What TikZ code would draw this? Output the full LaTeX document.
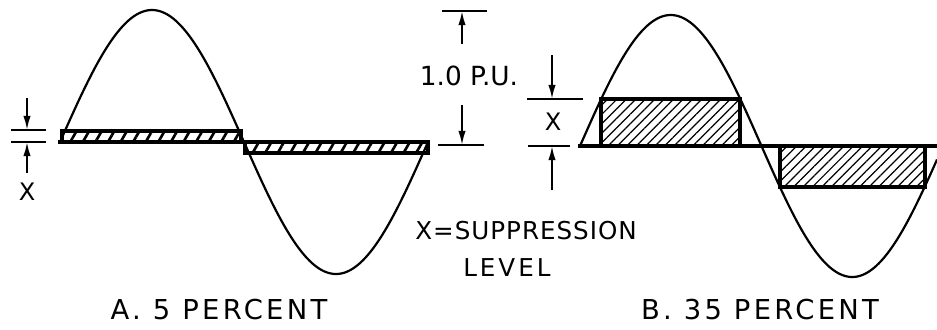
\documentclass[tikz,border=0pt]{standalone}
\usepackage{fontspec}
\setmainfont{DejaVu Sans}
\newfontfamily\wideletter{DejaVu Sans}[LetterSpace=12]
\newfontfamily\midletter{DejaVu Sans}[LetterSpace=4]
\usetikzlibrary{arrows.meta, positioning, patterns.meta, calc}

\begin{document}
\begin{tikzpicture}[
  x=0.02cm, y=-0.02cm,
  wave/.style={line width=1.25pt, line join=round},
  clipbox/.style={draw=black, line width=1.8pt},
  thinhatch/.style={pattern={Lines[angle=60, distance=6.2pt, line width=1.5pt]}},
  widehatch/.style={pattern={Lines[angle=45, distance=3.8pt, line width=0.7pt]}},
  dimtick/.style={line width=1.5pt},
  dim/.style={line width=1.1pt, -{Latex[length=8pt, width=4.2pt]}},
  xlbl/.style={inner sep=0pt, font=\fontsize{13.7}{16}\selectfont},
  lbl/.style={inner sep=0pt, font=\midletter\fontsize{14}{17}\selectfont},
  caption/.style={inner sep=0pt, font=\wideletter\fontsize{15.6}{19}\selectfont},
]
  \useasboundingbox (0,0) rectangle (937,329);

  % ── A: 5 percent ───────────────────────────
  \draw[wave] plot[domain=60:428, samples=160] (\x, {142-132*sin((\x-60)*0.97826)});
  \draw[clipbox, thinhatch] (62,131) rectangle (241,142);
  \draw[clipbox, thinhatch] (245,142) rectangle (428,153);
  \draw[clipbox] (58,142) -- (430,142);

  % ── B: 35 percent ──────────────────────────
  \draw[wave] plot[domain=580:937, samples=160] (\x, {146-131*sin((\x-580)*0.99174)});
  \draw[clipbox, widehatch] (601,99) rectangle (740,146);
  \draw[clipbox, widehatch] (780,146) rectangle (925,187);
  \draw[clipbox] (578,146) -- (937,146);

  % ── X on A ─────────────────────────────────
  \coordinate (axs) at (27,98);
  \coordinate (axt) at (27,130);
  \coordinate (axb) at (27,142);
  \node[xlbl] (xa) at (27,192) {X};
  \draw[dimtick] ($(axt)+(-16,0)$) -- ($(axt)+(19,0)$);
  \draw[dimtick] ($(axb)+(-16,0)$) -- ($(axb)+(19,0)$);
  \draw[dim] (axs) -- (axt);
  \draw[dim, shorten <=5.5pt] (xa) -- (axb);

  % ── 1.0 P.U. ───────────────────────────────
  \coordinate (put) at (462,11);
  \coordinate (pub) at (462,145);
  \node[xlbl, font=\fontsize{15}{18}\selectfont] (pu) at (469,76) {1.0 P.U.};
  \draw[dimtick] ($(put)+(-20,0)$) -- ($(put)+(25,0)$);
  \draw[dimtick] ($(pub)+(-24,0)$) -- ($(pub)+(22,0)$);
  \draw[dim, shorten <=12.5pt] (pu.north -| put) -- (put);
  \draw[dim, shorten <=10.5pt] (pu.south -| pub) -- (pub);

  % ── X on B ─────────────────────────────────
  \coordinate (bxs) at (552,55);
  \coordinate (bxt) at (552,99);
  \coordinate (bxb) at (552,146);
  \coordinate (bxe) at (552,190);
  \node[xlbl] (xb) at (553,122) {X};
  \draw[dimtick] ($(bxt)+(-25,0)$) -- ($(bxt)+(31,0)$);
  \draw[dimtick] ($(bxb)+(-24,0)$) -- ($(bxb)+(18,0)$);
  \draw[dim] (bxs) -- (bxt);
  \draw[dim] (bxe) -- (bxb);

  % ── Legend and captions ────────────────────
  \node[lbl, anchor=west] (supp) at (415,231) {X=SUPPRESSION};
  \node[lbl, font=\wideletter\fontsize{14}{17}\selectfont, below right=0.36cm and 0.96cm of supp.south west] (lev) {LEVEL};
  \node[caption] (capa) at (219,310) {A. 5 PERCENT};
  \node[caption] (capb) at (760,310) {B. 35 PERCENT};

\end{tikzpicture}
\end{document}
